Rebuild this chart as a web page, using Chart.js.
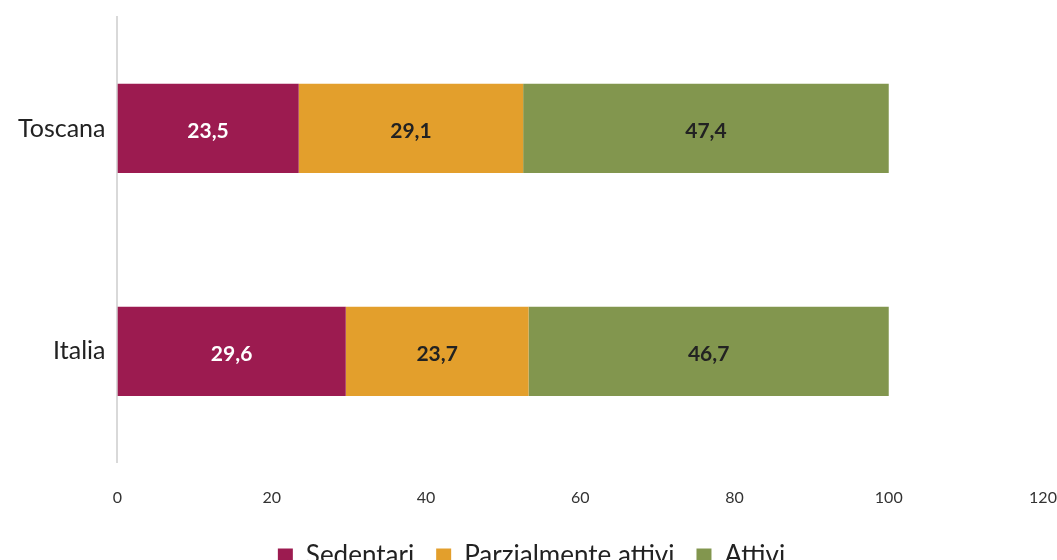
<!DOCTYPE html>
<html>
<head>
<meta charset="utf-8">
<script src="https://cdn.jsdelivr.net/npm/chart.js@4/dist/chart.umd.min.js"></script>
<style>
  html, body { margin: 0; padding: 0; background: #fff; overflow: hidden; }
  #wrap { width: 1057px; height: 579px; position: relative; }
</style>
</head>
<body>
<div id="wrap"><canvas id="c"></canvas></div>
<script>
const regions = ['Toscana', 'Italia'];
const sedentari = [23.5, 29.6];
const parzialmenteAttivi = [29.1, 23.7];
const attivi = [47.4, 46.7];
const seriesNames = ['Sedentari', 'Parzialmente attivi', 'Attivi'];
const xTicks = [0, 20, 40, 60, 80, 100, 120];

const FONT = 'Lato, "Open Sans", sans-serif';

// Writes each segment's value, centred on its bar, with an Italian decimal comma
const barValueLabels = {
  id: 'barValueLabels',
  afterDatasetsDraw(chart) {
    const ctx = chart.ctx;
    ctx.save();
    ctx.font = 'bold 21px ' + FONT;
    ctx.textAlign = 'center';
    ctx.textBaseline = 'middle';
    chart.data.datasets.forEach((ds, i) => {
      const meta = chart.getDatasetMeta(i);
      meta.data.forEach((bar, j) => {
        const v = ds.data[j];
        const left = bar.base, right = bar.x;
        ctx.fillStyle = ds.labelColor;
        ctx.fillText(v.toFixed(1).replace('.', ','), (left + right) / 2, bar.y + 3);
      });
    });
    ctx.restore();
  }
};

new Chart(document.getElementById('c'), {
  type: 'bar',
  data: {
    labels: regions,
    datasets: [
      { label: seriesNames[0], data: sedentari, backgroundColor: '#9C1B50', labelColor: '#ffffff' },
      { label: seriesNames[1], data: parzialmenteAttivi, backgroundColor: '#E39F2C', labelColor: '#222222' },
      { label: seriesNames[2], data: attivi, backgroundColor: '#82964E', labelColor: '#222222' }
    ]
  },
  options: {
    indexAxis: 'y',
    responsive: true,
    maintainAspectRatio: false,
    animation: false,
    layout: { padding: { top: 17, right: 0, left: 6, bottom: 0 } },
    datasets: { bar: { categoryPercentage: 0.8, barPercentage: 0.5 } },
    scales: {
      x: {
        stacked: true,
        min: 0, max: 120,
        afterBuildTicks(scale) { scale.ticks = xTicks.map(v => ({ value: v })); },
        afterFit(scale) { scale.paddingRight = 14; scale.height -= 11; },
        grid: { display: false, drawTicks: false },
        border: { display: false },
        ticks: { color: '#333', font: { family: FONT, size: 16 }, padding: 25 }
      },
      y: {
        stacked: true,
        afterFit(scale) { scale.paddingTop = 0; scale.paddingBottom = 0; },
        grid: { display: false, drawTicks: false },
        border: { display: true, color: '#D9D9D9', width: 2 },
        ticks: { color: '#222', font: { family: FONT, size: 25 }, padding: 12 }
      }
    },
    plugins: {
      legend: {
        position: 'bottom',
        labels: {
          color: '#222',
          font: { family: FONT, size: 26 },
          boxWidth: 15, boxHeight: 15,
          padding: 22
        }
      },
      tooltip: { enabled: false },
      title: { display: false }
    }
  },
  plugins: [barValueLabels]
});
</script>
</body>
</html>
